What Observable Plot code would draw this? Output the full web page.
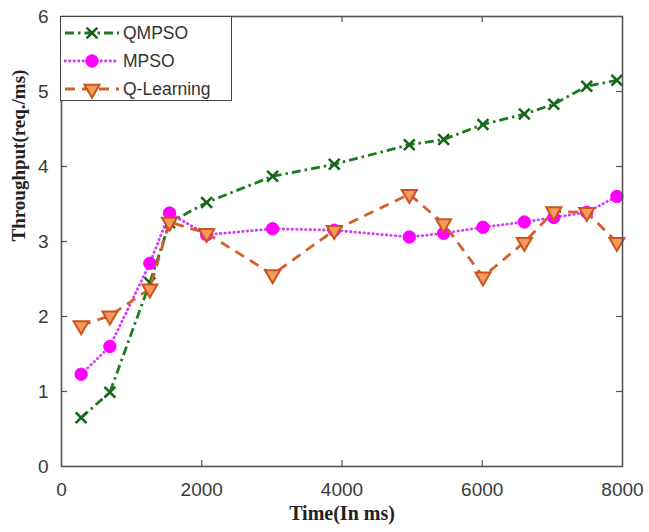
<!DOCTYPE html>
<html>
<head>
<meta charset="utf-8">
<script src="https://cdn.jsdelivr.net/npm/d3@7"></script>
<script src="https://cdn.jsdelivr.net/npm/@observablehq/plot@0.6"></script>
<style>
  body { margin: 0; background: #fff; }
  #chart { position: relative; width: 649px; height: 532px; }
  #chart svg.plot { display: block; }
  #legend { position: absolute; left: 60px; top: 16px; width: 172px; height: 85px;
            box-sizing: border-box; border: 1.2px solid #444; background: #fff; }
  #legend svg { display: block; }
</style>
</head>
<body>
<div id="chart"></div>
<script>
// Sampling times (ms) and measured throughput (req./ms) per method
const times     = [280, 690, 1260, 1540, 2070, 3010, 3890, 4960, 5450, 6010, 6600, 7020, 7490, 7920];
const qmpso     = [0.65, 0.99, 2.45, 3.25, 3.52, 3.87, 4.03, 4.29, 4.36, 4.56, 4.70, 4.83, 5.07, 5.15];
const mpso      = [1.23, 1.60, 2.71, 3.38, 3.09, 3.17, 3.15, 3.06, 3.11, 3.19, 3.26, 3.32, 3.39, 3.60];
const qLearning = [1.88, 2.01, 2.37, 3.26, 3.11, 2.56, 3.15, 3.63, 3.24, 2.53, 2.99, 3.40, 3.39, 2.99];

const seriesNames = ["QMPSO", "MPSO", "Q-Learning"];
const xTicks = [0, 2000, 4000, 6000, 8000];
const yTicks = [0, 1, 2, 3, 4, 5, 6];
const xLabel = "Time(In ms)";
const yLabel = "Throughput(req./ms)";

// Line and marker styling for each method
const styles = {
  "QMPSO":      { line: "#1c7a1f", dash: "9,4,2.5,4", width: 2.8, cap: "butt",  symbol: "times",    r: 5,   fill: "none",    mstroke: "#17651a", mwidth: 2.6, rotate: 0 },
  "MPSO":       { line: "#d23ff0", dash: "0.5,4",     width: 2.8, cap: "round", symbol: "circle",   r: 6.2, fill: "#ff00ff", mstroke: "#ff00ff", mwidth: 1,   rotate: 0 },
  "Q-Learning": { line: "#d2602a", dash: "10,7",      width: 2.8, cap: "butt",  symbol: "triangle", r: 5.6, fill: "#f49a5c", mstroke: "#c9541e", mwidth: 2,   rotate: 180 }
};
const values = { "QMPSO": qmpso, "MPSO": mpso, "Q-Learning": qLearning };

const rows = seriesNames.map(name => times.map((t, i) => ({ series: name, time: t, value: values[name][i] })));

const frameW = 649 - 61 - 27, frameH = 532 - 16 - 66, tickLen = 6;
const inner = arr => arr.slice(1, -1);

const seriesMarks = rows.flatMap(data => {
  const s = styles[data[0].series];
  return [
    Plot.line(data, { x: "time", y: "value", stroke: s.line, strokeWidth: s.width,
                      strokeDasharray: s.dash, strokeLinecap: s.cap }),
    Plot.dot(data, { x: "time", y: "value", symbol: s.symbol, r: s.r, fill: s.fill,
                     stroke: s.mstroke, strokeWidth: s.mwidth, rotate: s.rotate })
  ];
});

const chart = Plot.plot({
  width: 649,
  height: 532,
  marginLeft: 61,
  marginRight: 27,
  marginTop: 16,
  marginBottom: 66,
  x: { domain: [0, 8000] },
  y: { domain: [0, 6] },
  style: { fontFamily: "'Liberation Sans', Arial, sans-serif", fontSize: "19px", color: "#3a3a3a", background: "#fff" },
  marks: [
    Plot.axisX(xTicks, { tickSize: 0, tickPadding: 16, label: null, fontSize: 19, tickFormat: d => String(d) }),
    Plot.axisY(yTicks, { tickSize: 0, tickPadding: 13, label: null, fontSize: 19, tickFormat: d => String(d) }),
    // inward ticks on all four sides
    Plot.ruleX(inner(xTicks), { x: d => d, insetTop: frameH - tickLen, stroke: "#555", strokeWidth: 1.2 }),
    Plot.ruleX(inner(xTicks), { x: d => d, insetBottom: frameH - tickLen, stroke: "#555", strokeWidth: 1.2 }),
    Plot.ruleY(inner(yTicks), { y: d => d, insetRight: frameW - tickLen, stroke: "#555", strokeWidth: 1.2 }),
    Plot.ruleY(inner(yTicks), { y: d => d, insetLeft: frameW - tickLen, stroke: "#555", strokeWidth: 1.2 }),
    ...seriesMarks,
    Plot.frame({ stroke: "#555", strokeWidth: 1.6 }),
    Plot.text([xLabel], { text: d => d, frameAnchor: "bottom", dy: 53, fontSize: 20, fontWeight: "bold",
                          fontFamily: "'Liberation Serif', 'Times New Roman', serif", fill: "#222" }),
    Plot.text([yLabel], { text: d => d, frameAnchor: "left", dx: -43, rotate: -90, fontSize: 19, fontWeight: "bold",
                          fontFamily: "'Liberation Serif', 'Times New Roman', serif", fill: "#222" })
  ]
});
chart.classList.add("plot");
const host = document.getElementById("chart");
host.appendChild(chart);

// Legend box in the upper-left corner of the axes
const legend = d3.select(host).append("div").attr("id", "legend");
const lsvg = legend.append("svg").attr("width", 170).attr("height", 83);
seriesNames.forEach((name, i) => {
  const s = styles[name];
  const cy = 16 + i * 28;
  lsvg.append("line").attr("x1", 4).attr("x2", 58).attr("y1", cy).attr("y2", cy)
    .attr("stroke", s.line).attr("stroke-width", s.width).attr("stroke-dasharray", s.dash)
    .attr("stroke-linecap", s.cap);
  const sym = { times: d3.symbolTimes, circle: d3.symbolCircle, triangle: d3.symbolTriangle }[s.symbol];
  lsvg.append("path").attr("d", d3.symbol(sym, Math.PI * s.r * s.r)())
    .attr("transform", `translate(31,${cy}) rotate(${s.rotate})`)
    .attr("fill", s.fill).attr("stroke", s.mstroke).attr("stroke-width", s.mwidth);
  lsvg.append("text").attr("x", 62).attr("y", cy).attr("dy", "0.36em")
    .attr("font-family", "'Liberation Sans', Arial, sans-serif").attr("font-size", 17.5)
    .attr("fill", "#333").text(name);
});
</script>
</body>
</html>
